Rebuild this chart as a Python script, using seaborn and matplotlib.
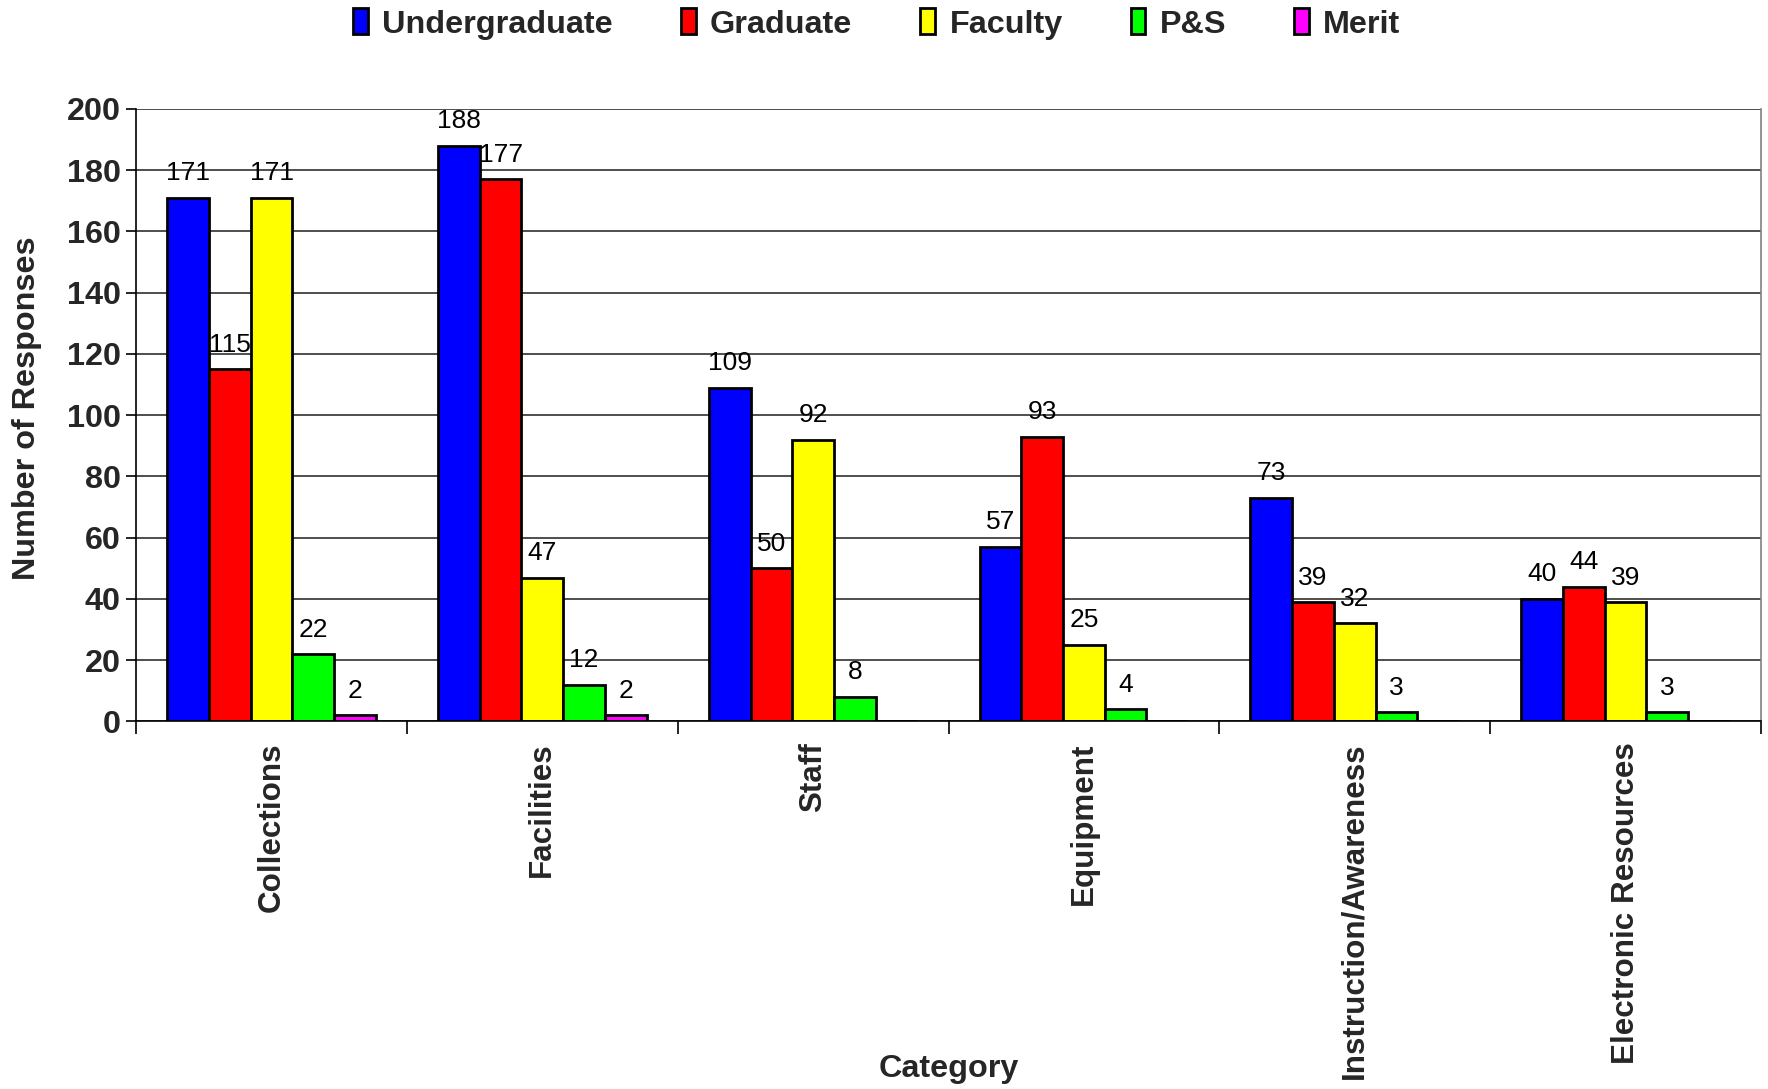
import numpy as np
import pandas as pd
import matplotlib
matplotlib.use("Agg")
import matplotlib.pyplot as plt
import seaborn as sns
from matplotlib.patches import Patch

categories = ["Collections", "Facilities", "Staff", "Equipment",
              "Instruction/Awareness", "Electronic Resources"]
groups = ["Undergraduate", "Graduate", "Faculty", "P&S", "Merit"]
undergraduate = [171, 188, 109, 57, 73, 40]
graduate = [115, 177, 50, 93, 39, 44]
faculty = [171, 47, 92, 25, 32, 39]
ps = [22, 12, 8, 4, 3, 3]
merit = [2, 2, 0, 0, 0, 0]
colors = ["#0000FF", "#FF0000", "#FFFF00", "#00FF00", "#FF00FF"]
yticks = [0, 20, 40, 60, 80, 100, 120, 140, 160, 180, 200]

series = [undergraduate, graduate, faculty, ps, merit]
rows = []
for g, vals in zip(groups, series):
    for c, v in zip(categories, vals):
        rows.append({"Category": c, "Group": g, "Value": v})
df = pd.DataFrame(rows)

sns.set_theme(style="white")
plt.rcParams["font.family"] = ["Liberation Sans", "DejaVu Sans"]

FS = 23.3

fig = plt.figure(figsize=(17.68, 10.89), dpi=100)
ax = fig.add_axes([0.077, 0.3375, 0.919, 0.5625])

sns.barplot(data=df, x="Category", y="Value", hue="Group", order=categories,
            hue_order=groups, palette=colors, width=0.77, edgecolor="black",
            linewidth=2, saturation=1, errorbar=None, legend=False, ax=ax)

for cont, vals in zip(ax.containers, series):
    labels = [str(v) if v > 0 else "" for v in vals]
    ax.bar_label(cont, labels=labels, padding=9, fontsize=19, color="black")

ax.set_ylim(0, 200)
ax.set_xlim(-0.5, len(categories) - 0.5)
ax.set_yticks(yticks)
ax.yaxis.grid(True, color="#303030", linewidth=1.2)
ax.set_axisbelow(True)

for s in ["left", "bottom"]:
    ax.spines[s].set_color("black")
    ax.spines[s].set_linewidth(1.2)
ax.spines["right"].set_color("#808080")
ax.spines["right"].set_linewidth(1.2)
ax.spines["top"].set_visible(False)

ax.set_xticks(range(len(categories)))
ax.set_xticklabels(categories, rotation=90, fontsize=22.6, fontweight="bold")
ax.set_xticks(np.arange(-0.5, len(categories)), minor=True)
ax.tick_params(axis="x", which="major", length=0, pad=15)
ax.tick_params(axis="x", which="minor", length=9, width=1.2, color="black",
               direction="out", bottom=True)
ax.tick_params(axis="y", length=7, width=1.2, color="black", direction="out",
               left=True, pad=4)
for lab in ax.get_yticklabels():
    lab.set_fontsize(FS)
    lab.set_fontweight("bold")

ax.set_xlabel("Category", fontsize=FS, fontweight="bold")
ax.xaxis.set_label_coords(0.5, -0.568)
ax.xaxis.label.set_va("center")
ax.set_ylabel("Number of Responses", fontsize=FS, fontweight="bold")
ax.yaxis.set_label_coords(-0.067, 0.511)
ax.yaxis.label.set_va("center")

handles = [Patch(facecolor=c, edgecolor="black", linewidth=2) for c in colors]
fig.legend(handles, groups, loc="center", bbox_to_anchor=(0.496, 0.978),
           ncol=5, frameon=False, handlelength=0.45, handleheight=0.85,
           handletextpad=0.45, columnspacing=2.1,
           prop={"size": FS, "weight": "bold"})

fig.savefig("out.png", dpi=100)
